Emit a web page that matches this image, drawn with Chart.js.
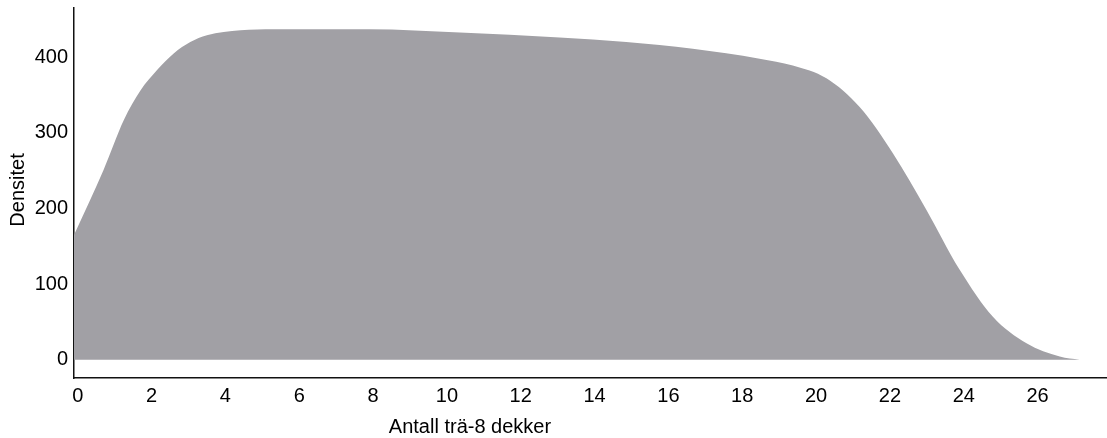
<!DOCTYPE html>
<html>
<head>
<meta charset="utf-8">
<script src="https://cdn.jsdelivr.net/npm/chart.js@4/dist/chart.umd.min.js"></script>
<style>
  html, body { margin: 0; padding: 0; background: #fff; }
  #wrap { width: 1107px; height: 438px; }
</style>
</head>
<body>
<div id="wrap"><canvas id="densityChart" width="1107" height="438"></canvas></div>
<script>
// values
const decks = [-0.1, 0.7, 1.25, 1.7, 2.15, 2.6, 3.05, 3.5, 4.41, 5.31, 7.9, 10.35, 13.05, 14.86, 16.66, 18.47, 19.37, 20.28, 21.18, 22.08, 22.99, 23.89, 24.79, 25.7, 26.6, 27.14];
const density = [165, 251, 317, 356, 383, 405, 420, 429, 435.6, 437, 437, 432.5, 426, 420, 411, 398, 389, 372, 334, 273, 198, 119, 57, 22, 4.4, 0];
const xTickValues = [0, 2, 4, 6, 8, 10, 12, 14, 16, 18, 20, 22, 24, 26];
const yTickValues = [0, 100, 200, 300, 400];
const xTitle = 'Antall trä-8 dekker';
const yTitle = 'Densitet';

const font = { family: "'Liberation Sans', Arial, sans-serif", size: 20 };

const titlesPlugin = {
    id: 'titles',
    afterDraw(chart) {
        const { ctx } = chart;
        ctx.save();
        ctx.fillStyle = '#000';
        ctx.font = `${font.size}px ${font.family}`;
        ctx.textAlign = 'center';
        ctx.textBaseline = 'middle';
        ctx.fillText(xTitle, 470, 427);
        ctx.translate(18, 190);
        ctx.rotate(-Math.PI / 2);
        ctx.fillText(yTitle, 0, 0);
        ctx.restore();
    }
};

new Chart(document.getElementById('densityChart'), {
    type: 'line',
    data: {
        datasets: [{
            data: decks.map((x, i) => ({ x: x, y: density[i] })),
            fill: 'origin',
            backgroundColor: 'rgb(161, 160, 165)',
            borderColor: 'rgba(161, 160, 165, 0)',
            borderWidth: 0,
            pointRadius: 0,
            cubicInterpolationMode: 'monotone'
        }]
    },
    options: {
        responsive: false,
        animation: false,
        layout: { padding: { top: 8, left: 0, right: 0, bottom: 0 } },
        plugins: { legend: { display: false }, tooltip: { enabled: false } },
        scales: {
            x: {
                type: 'linear',
                min: -0.1,
                max: 27.88,
                afterFit: (scale) => {
                    scale.height = 60;
                    scale.paddingLeft = 0;
                    scale.paddingRight = 0;
                },
                afterBuildTicks: (scale) => { scale.ticks = xTickValues.map(v => ({ value: v })); },
                grid: { display: true, drawOnChartArea: false, drawTicks: false },
                border: { display: true, color: '#111', width: 1.5 },
                ticks: { color: '#000', font: font, padding: 6, maxRotation: 0 }
            },
            y: {
                min: -24,
                max: 465,
                afterFit: (scale) => {
                    scale.width = 74;
                    scale.paddingTop = 0;
                    scale.paddingBottom = 0;
                },
                afterBuildTicks: (scale) => { scale.ticks = yTickValues.map(v => ({ value: v })); },
                grid: { display: true, drawOnChartArea: false, drawTicks: false },
                border: { display: true, color: '#111', width: 1.5 },
                ticks: { color: '#000', font: font, padding: 6 }
            }
        }
    },
    plugins: [titlesPlugin]
});
</script>
</body>
</html>
